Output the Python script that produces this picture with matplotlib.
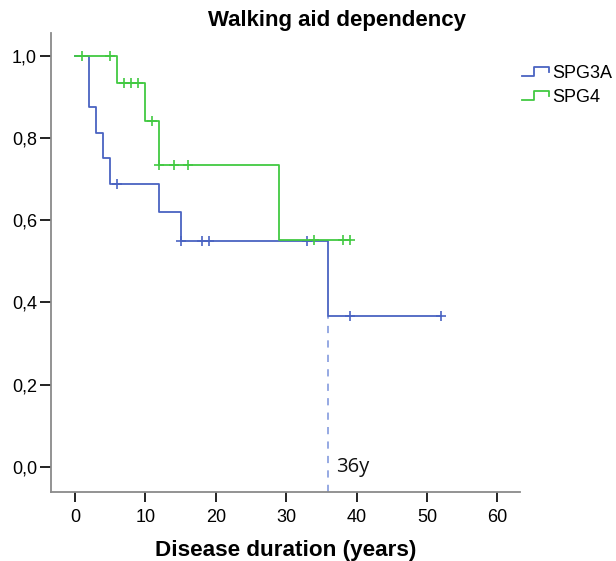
import matplotlib
matplotlib.use("Agg")
import matplotlib.pyplot as plt
import numpy as np
from matplotlib.lines import Line2D
from matplotlib.legend_handler import HandlerBase

# ---- data ----
groups = ["SPG3A", "SPG4"]
spg3a_times = [0, 2, 3, 4, 5, 12, 15, 36]
spg3a_surv = [1.0, 0.875, 0.8125, 0.75, 0.6875, 0.6188, 0.55, 0.3667]
spg3a_end = 52
spg3a_censor = [6, 15, 18, 19, 33, 39, 52]

spg4_times = [0, 6, 10, 12, 29]
spg4_surv = [1.0, 0.9333, 0.84, 0.735, 0.551]
spg4_end = 39
spg4_censor = [1, 5, 7, 8, 9, 11, 12, 14, 16, 34, 38, 39]

median_marker = 36
median_label = "36y"
xticks = [0, 10, 20, 30, 40, 50, 60]
yticks = [0.0, 0.2, 0.4, 0.6, 0.8, 1.0]
ytick_labels = ["0,0", "0,2", "0,4", "0,6", "0,8", "1,0"]

blue = "#4a63c2"
green = "#42c942"

plt.rcParams['font.family'] = ['Liberation Sans', 'DejaVu Sans']

fig = plt.figure(figsize=(6.16, 5.61), dpi=100)
ax = fig.add_axes([51/616, 1 - 492/561, (520-51)/616, (492-33)/561])


def surv_at(times, surv, t):
    idx = np.searchsorted(times, t, side='right') - 1
    return np.asarray(surv)[idx]


def draw(times, surv, end, censor, color, z):
    xs = list(times) + [end]
    ys = list(surv) + [surv[-1]]
    ax.step(xs, ys, where='post', color=color, lw=1.3, zorder=z)
    cy = [surv_at(times, surv, c) for c in censor]
    ax.plot(censor, cy, ls='none', marker='+', ms=7, mew=1.2, color=color, zorder=z)


draw(spg3a_times, spg3a_surv, spg3a_end, spg3a_censor, blue, 3)
draw(spg4_times, spg4_surv, spg4_end, spg4_censor, green, 4)

ylim = (-0.061, 1.055)
ax.plot([median_marker, median_marker], [ylim[0], surv_at(spg3a_times, spg3a_surv, median_marker)],
        color="#8ea2e0", lw=1.3, ls=(0, (4, 4)), zorder=2)
ax.text(median_marker + 1.1, 0.0, median_label, family=['Open Sans', 'DejaVu Sans'],
        fontsize=14.5, va='center', ha='left', color='#111111')

ax.set_xlim(-3.4, 63.2)
ax.set_ylim(*ylim)
ax.set_xticks(xticks)
ax.set_xticklabels([str(x) for x in xticks], fontsize=13)
ax.set_yticks(yticks)
ax.set_yticklabels(ytick_labels, fontsize=13)
for s in ['top', 'right']:
    ax.spines[s].set_visible(False)
for s in ['left', 'bottom']:
    ax.spines[s].set_color('#8a8a8a')
    ax.spines[s].set_linewidth(1.3)
ax.tick_params(axis='x', length=7, width=1.4, color='#222222', pad=5)
ax.tick_params(axis='y', length=8, width=1.4, color='#222222', pad=2)

ax.set_title("Walking aid dependency", fontsize=16, fontweight='bold', pad=5, x=0.61)
ax.set_xlabel("Disease duration (years)", fontsize=16.2, fontweight='bold', labelpad=10)


class StepHandler(HandlerBase):
    def create_artists(self, legend, orig_handle, xdescent, ydescent, width, height, fontsize, trans):
        x0 = -xdescent
        y0 = -ydescent
        xs = [x0, x0 + 0.45 * width, x0 + 0.45 * width, x0 + width, x0 + width]
        ys = [y0 + 0.15 * height, y0 + 0.15 * height, y0 + 0.85 * height, y0 + 0.85 * height, y0 + 0.45 * height]
        ln = Line2D(xs, ys, color=orig_handle.get_color(), lw=1.3, transform=trans)
        return [ln]


handles = [Line2D([], [], color=blue), Line2D([], [], color=green)]
fig.legend(handles, groups, handler_map={Line2D: StepHandler()}, loc='upper left',
           bbox_to_anchor=(522/616, 1 - 65/561), frameon=False, fontsize=13,
           handlelength=1.5, handletextpad=0.17, labelspacing=0.38, borderaxespad=0, borderpad=0)

fig.savefig("out.png", dpi=100)
